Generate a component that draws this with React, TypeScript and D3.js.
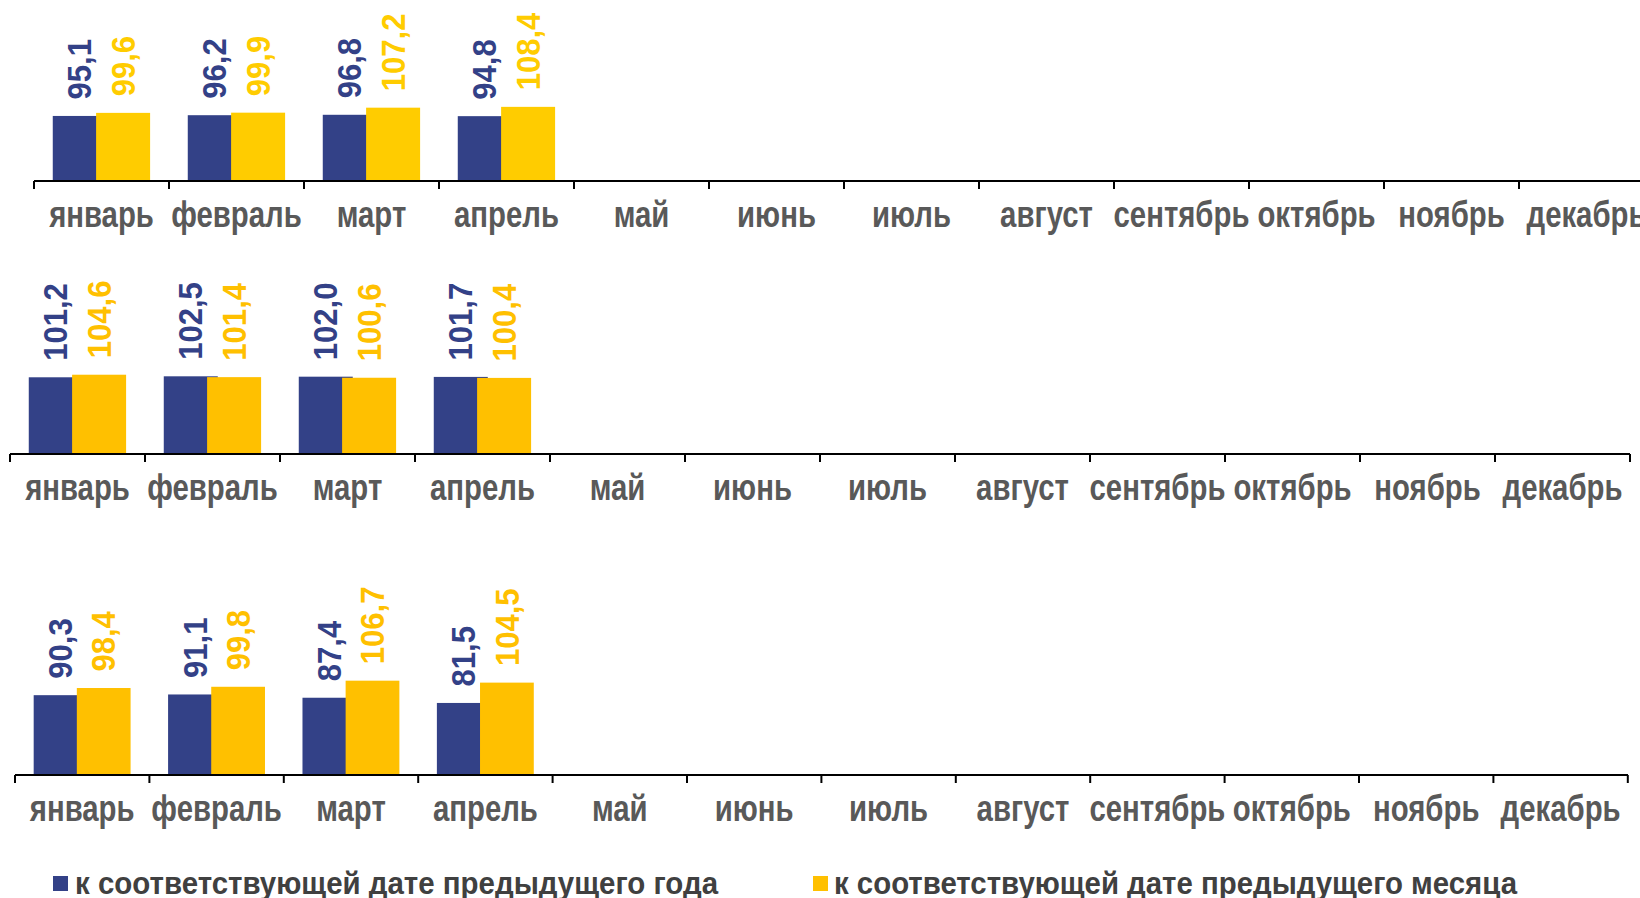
import React from "react";
import * as d3 from "d3";

const months = ["январь", "февраль", "март", "апрель", "май", "июнь", "июль", "август", "сентябрь", "октябрь", "ноябрь", "декабрь"];
const dataMonths = ["январь", "февраль", "март", "апрель"];

const p1YoY = [95.1, 96.2, 96.8, 94.8];
const p1MoM = [99.6, 99.9, 107.2, 108.4];
const p2YoY = [101.2, 102.5, 102.0, 101.7];
const p2MoM = [104.6, 101.4, 100.6, 100.4];
const p3YoY = [90.3, 91.1, 87.4, 81.5];
const p3MoM = [98.4, 99.8, 106.7, 104.5];

const legendLabels = ["к соответствующей дате предыдущего года", "к соответствующей дате предыдущего месяца"];

const BLUE = "#334187";
const FONT = "'Liberation Sans', Arial, sans-serif";

type PanelCfg = { yoy: number[]; mom: number[]; axisY: number; x0: number; step: number; ppu: number; yellow: string; axisEnd: number };

const panels: PanelCfg[] = [
  { yoy: p1YoY, mom: p1MoM, axisY: 181, x0: 34, step: 135, ppu: 0.684, yellow: "#FFCC00", axisEnd: 1660 },
  { yoy: p2YoY, mom: p2MoM, axisY: 454, x0: 10, step: 135, ppu: 0.758, yellow: "#FFC000", axisEnd: 1630 },
  { yoy: p3YoY, mom: p3MoM, axisY: 775, x0: 15, step: 134.4, ppu: 0.884, yellow: "#FFC000", axisEnd: 1628 },
];

const fmt = (v: number) => v.toFixed(1).replace(".", ",");

function Panel({ cfg }: { cfg: PanelCfg }) {
  const x = d3.scaleBand<string>().domain(months).range([cfg.x0, cfg.x0 + 12 * cfg.step]).paddingInner(0).paddingOuter(0);
  const y = d3.scaleLinear().domain([0, 100]).range([cfg.axisY, cfg.axisY - 100 * cfg.ppu]);
  const bw = x.bandwidth();
  const barW = bw * 0.4;
  const off1 = bw * 0.139;
  const off2 = bw * 0.46;
  const LF = 32.5;
  const LK = 0.955;
  const gap = 16.5;
  const series = [
    { vals: cfg.yoy, off: off1, color: BLUE },
    { vals: cfg.mom, off: off2, color: cfg.yellow },
  ];
  const tickXs = months.map((m) => x(m) as number).concat([cfg.x0 + 12 * cfg.step]);
  return (
    <g>
      {series.map((s, si) =>
        dataMonths.map((m, i) => {
          const bx = (x(m) as number) + s.off;
          const top = y(s.vals[i]);
          return <rect key={`b${si}-${i}`} x={bx} y={top} width={barW} height={cfg.axisY - top} fill={s.color} />;
        })
      )}
      {series.map((s, si) =>
        dataMonths.map((m, i) => {
          const cx = (x(m) as number) + s.off + barW / 2;
          const top = y(s.vals[i]);
          return (
            <text
              key={`l${si}-${i}`}
              transform={`translate(${cx + 0.358 * LF},${top - gap}) rotate(-90) scale(${LK},1)`}
              fontFamily={FONT}
              fontWeight="bold"
              fontSize={LF}
              fill={s.color}
              textAnchor="start"
            >
              {fmt(s.vals[i])}
            </text>
          );
        })
      )}
      <line x1={cfg.x0} x2={cfg.axisEnd} y1={cfg.axisY} y2={cfg.axisY} stroke="#000" strokeWidth={2} />
      {tickXs.map((tx, i) => (
        <line key={`t${i}`} x1={tx} x2={tx} y1={cfg.axisY} y2={cfg.axisY + 8} stroke="#000" strokeWidth={2} />
      ))}
      {months.map((m) => (
        <text
          key={`c${m}`}
          transform={`translate(${(x(m) as number) + bw / 2},${cfg.axisY + 46}) scale(0.815,1)`}
          fontFamily={FONT}
          fontWeight="bold"
          fontSize={36}
          fill="#595959"
          textAnchor="middle"
        >
          {m}
        </text>
      ))}
    </g>
  );
}

export default function App() {
  return (
    <svg width={1640} height={898} style={{ position: "absolute", left: 0, top: 0, background: "#fff" }}>
      <rect x={0} y={0} width={1640} height={898} fill="#fff" />
      {panels.map((p, i) => (
        <Panel key={i} cfg={p} />
      ))}
      <rect x={53} y={876} width={15} height={15} fill={BLUE} />
      <text x={75} y={894} fontFamily={FONT} fontWeight="bold" fontSize={32} fill="#404040" textLength={643} lengthAdjust="spacingAndGlyphs">
        {legendLabels[0]}
      </text>
      <rect x={813} y={876} width={15} height={15} fill="#FFC000" />
      <text x={834} y={894} fontFamily={FONT} fontWeight="bold" fontSize={32} fill="#404040" textLength={683} lengthAdjust="spacingAndGlyphs">
        {legendLabels[1]}
      </text>
    </svg>
  );
}
